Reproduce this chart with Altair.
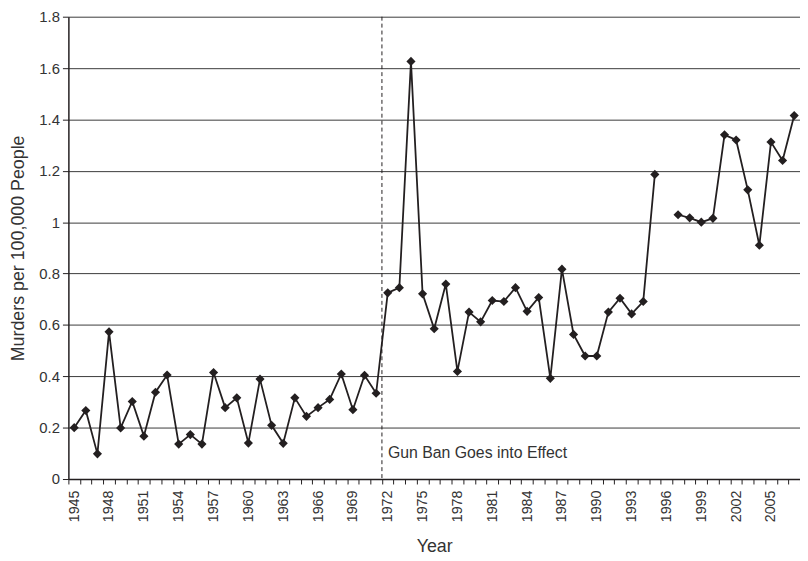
import altair as alt
import pandas as pd

years = list(range(1945, 2008))
rates = [0.200, 0.267, 0.098, 0.573, 0.199, 0.302, 0.167, 0.338, 0.405, 0.136,
         0.173, 0.136, 0.415, 0.278, 0.316, 0.140, 0.389, 0.209, 0.139, 0.316,
         0.244, 0.278, 0.310, 0.409, 0.270, 0.404, 0.334,
         0.725, 0.745, 1.626, 0.721, 0.585, 0.759, 0.419, 0.650, 0.612, 0.695,
         0.691, 0.745, 0.653, 0.707, 0.392, 0.817, 0.563, 0.479, 0.479, 0.650,
         0.704, 0.643, 0.691, 1.186, None, 1.029, 1.017, 1.000, 1.015, 1.340,
         1.320, 1.126, 0.910, 1.312, 1.240, 1.415]
y_ticks = [0, 0.2, 0.4, 0.6, 0.8, 1, 1.2, 1.4, 1.6, 1.8]
ban_year = 1972
ban_label = "Gun Ban Goes into Effect"
ban_label_y = 0.1

df = pd.DataFrame({"year": years, "rate": rates})
df["segment"] = ["a" if y < 1996 else "b" for y in years]

FONT = "Liberation Sans"
INK = "#231f20"

x_enc = alt.X(
    "year:O",
    scale=alt.Scale(domain=years, paddingInner=0, paddingOuter=0),
    axis=alt.Axis(
        title="Year",
        labelAngle=270,
        labelExpr="(datum.value - 1945) % 3 == 0 ? datum.value : ''",
        tickBand="extent",
        tickSize=5,
        labelPadding=6,
        titlePadding=16,
        labelFontSize=14.5,
        titleFontSize=18,
        labelOverlap=False,
    ),
)
y_enc = alt.Y(
    "rate:Q",
    scale=alt.Scale(domain=[0, 1.8], nice=False, zero=True),
    axis=alt.Axis(
        title="Murders per 100,000 People",
        values=y_ticks,
        format="~g",
        grid=True,
        tickSize=6,
        labelPadding=3,
        titlePadding=11,
        labelFontSize=15,
        titleFontSize=18,
    ),
)

base = alt.Chart(df)
line = base.mark_line(color=INK, strokeWidth=1.8).encode(
    x=x_enc, y=y_enc, detail="segment:N"
)
points = base.mark_point(shape="diamond", filled=True, size=85, color=INK, opacity=1).encode(
    x=x_enc, y=y_enc
)
rule = alt.Chart(pd.DataFrame({"v": [0]})).mark_rule(
    color=INK, strokeWidth=1, strokeDash=[4, 3]
).encode(
    x=alt.X(datum=ban_year, type="ordinal", bandPosition=0),
    y=alt.value(0),
    y2=alt.value(467),
)
label = alt.Chart(pd.DataFrame({"v": [0]})).mark_text(
    text=ban_label, align="left", baseline="middle", dx=6,
    font=FONT, fontSize=16, color="#333333"
).encode(
    x=alt.X(datum=ban_year, type="ordinal", bandPosition=0),
    y=alt.Y(datum=ban_label_y, type="quantitative"),
)

chart = alt.layer(line, points, rule, label).properties(
    width=739,
    height=467,
    autosize=alt.AutoSizeParams(type="none"),
    padding={"left": 61, "top": 6, "right": 0, "bottom": 80},
).configure_view(stroke=None).configure_axis(
    labelFont=FONT,
    titleFont=FONT,
    labelColor="#333333",
    titleColor="#333333",
    titleFontWeight="normal",
    domainColor=INK,
    domainWidth=1.5,
    tickColor=INK,
    tickWidth=1,
    gridColor="#3a3a3a",
    gridWidth=1,
    gridOpacity=1,
)

chart.save("out.html", embed_options={"renderer": "svg", "actions": False})
